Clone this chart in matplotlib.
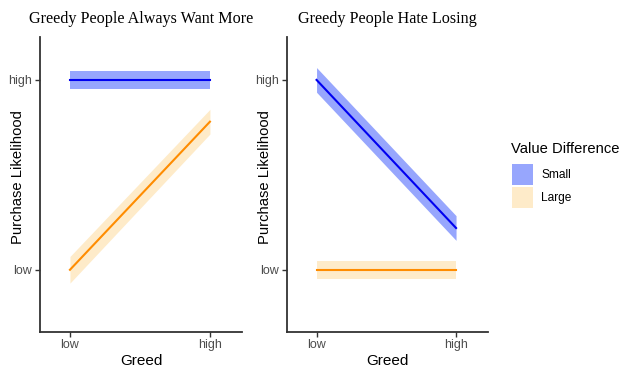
import matplotlib
matplotlib.use("Agg")
import matplotlib.pyplot as plt
from matplotlib.patches import Rectangle
import numpy as np

# Greed levels on the x axis (0 = low, 1 = high)
greed = [0, 1]
greed_labels = ["low", "high"]
likelihood_labels = ["low", "high"]

# Predicted purchase likelihood (0 = low, 1 = high) and half-width of the band
left_small = [1.0, 1.0]
left_small_ci = [0.047, 0.047]
left_large = [0.0, 0.78]
left_large_ci = [0.07, 0.065]

right_small = [1.0, 0.22]
right_small_ci = [0.065, 0.065]
right_large = [0.0, 0.0]
right_large_ci = [0.046, 0.046]

titles = ["Greedy People Always Want More", "Greedy People Hate Losing"]
groups = ["Small", "Large"]

line_colors = {"Small": "#0000F0", "Large": "#FF8C00"}
band_colors = {"Small": "#97A6FD", "Large": "#FEEBC9"}

SANS = "Liberation Sans"
SERIF = "Liberation Serif"

fig = plt.figure(figsize=(6.21, 3.72), dpi=100)
W, H = 621, 372


def axes_px(x0, x1, y0, y1):
    return fig.add_axes([x0 / W, 1 - y1 / H, (x1 - x0) / W, (y1 - y0) / H])


AX_TOP, AX_BOT = 37, 331.5
ax_left = axes_px(40, 242, AX_TOP, AX_BOT)
ax_right = axes_px(286.7, 488, AX_TOP, AX_BOT)

panels = [
    (ax_left, left_small, left_small_ci, left_large, left_large_ci),
    (ax_right, right_small, right_small_ci, right_large, right_large_ci),
]

for (ax, s, s_ci, l, l_ci), title in zip(panels, titles):
    for name, vals, ci in (("Small", s, s_ci), ("Large", l, l_ci)):
        v = np.array(vals)
        c = np.array(ci)
        ax.fill_between(greed, v - c, v + c, color=band_colors[name], lw=0, zorder=1)
        ax.plot(greed, v, color=line_colors[name], lw=1.5, zorder=2)

    ax.set_xlim(-0.214, 1.229)
    ax.set_ylim(-0.325, 1.226)
    ax.set_xticks(greed)
    ax.set_xticklabels(greed_labels)
    ax.set_yticks([0, 1])
    ax.set_yticklabels(likelihood_labels)
    for side in ("top", "right"):
        ax.spines[side].set_visible(False)
    for side in ("left", "bottom"):
        ax.spines[side].set_color("#333333")
        ax.spines[side].set_linewidth(1.3)
    ax.tick_params(axis="both", colors="#333333", length=3.5, width=1.0,
                   labelsize=9, labelcolor="#4D4D4D", pad=2)
    for lab in ax.get_xticklabels() + ax.get_yticklabels():
        lab.set_family(SANS)
    ax.set_xlabel("Greed", fontsize=11, family=SANS, labelpad=2)
    ax.set_ylabel("Purchase Likelihood", fontsize=10.6, family=SANS,
                  va="center", ha="center")
    bbox_w = ax.get_position().width * W
    ax.yaxis.set_label_coords(-22 / bbox_w, (AX_BOT - 177) / (AX_BOT - AX_TOP))
    ax.set_title(title, fontsize=11.6, family=SERIF, pad=10, loc="center")

# Legend for the band fill colours
fig.text(511 / W, 1 - 149 / H, "Value Difference", family=SANS, fontsize=10.6,
         ha="left", va="center")
key = 21
for i, g in enumerate(groups):
    top = 164 + i * 23
    fig.patches.append(Rectangle((512 / W, 1 - (top + key) / H), key / W, key / H,
                                 transform=fig.transFigure, facecolor=band_colors[g],
                                 edgecolor="none"))
    fig.text(541 / W, 1 - (top + key / 2) / H, g, family=SANS, fontsize=8.6,
             ha="left", va="center")

fig.savefig("out.png", dpi=100)
